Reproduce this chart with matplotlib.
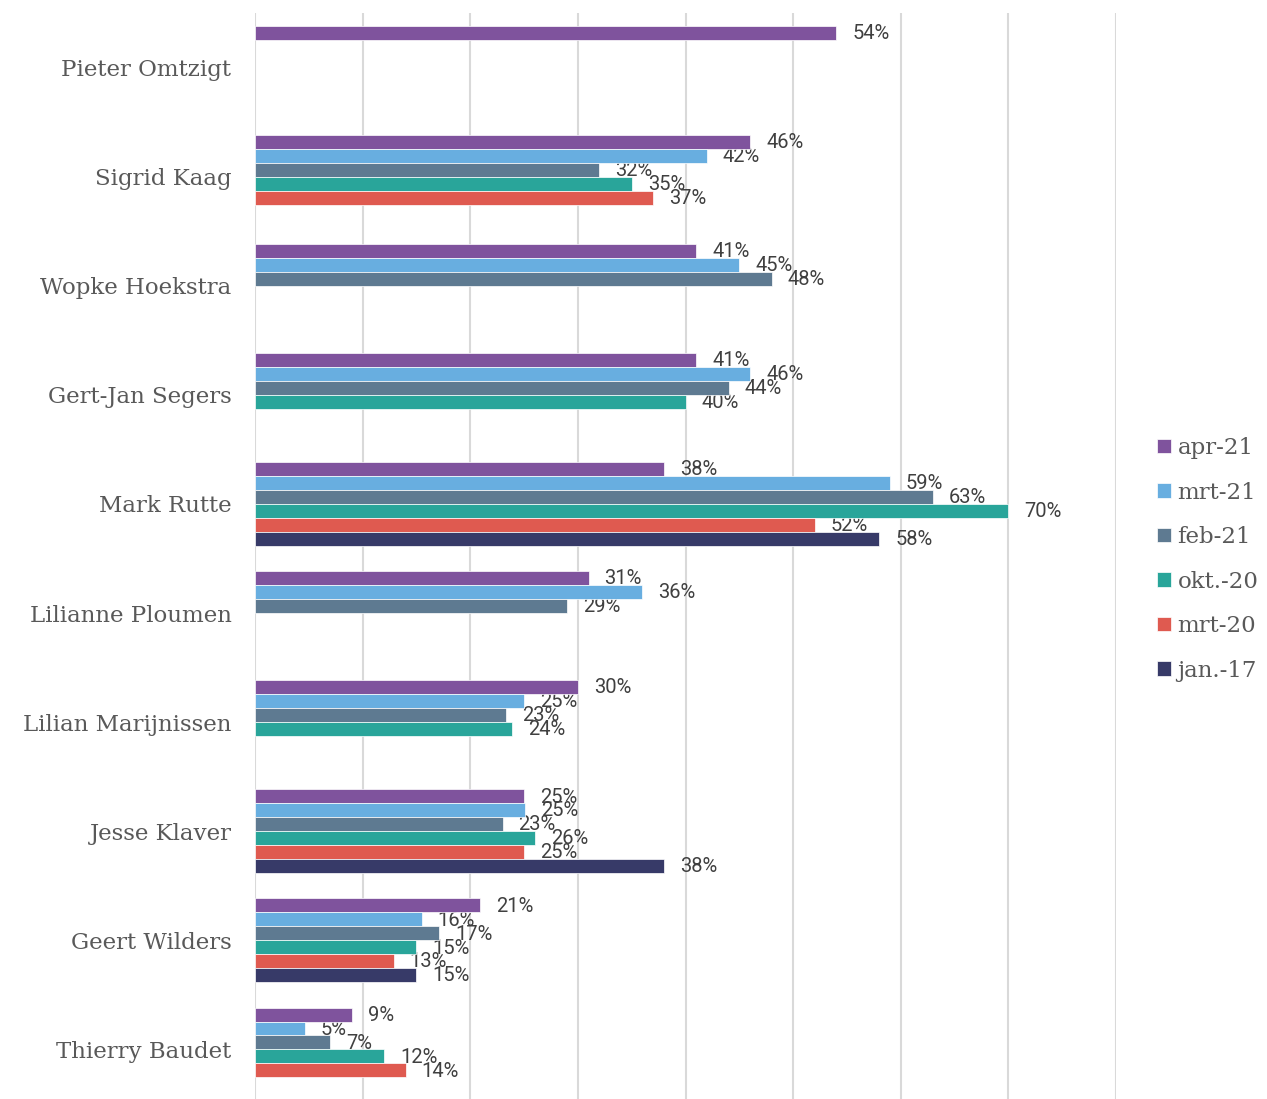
"""Horizontal grouped bar chart: politician approval by survey wave."""
import matplotlib

matplotlib.use("Agg")

import matplotlib.pyplot as plt  # noqa: E402
import numpy as np  # noqa: E402

candidates = [
    "Pieter Omtzigt",
    "Sigrid Kaag",
    "Wopke Hoekstra",
    "Gert-Jan Segers",
    "Mark Rutte",
    "Lilianne Ploumen",
    "Lilian Marijnissen",
    "Jesse Klaver",
    "Geert Wilders",
    "Thierry Baudet",
]
waves = ["apr-21", "mrt-21", "feb-21", "okt.-20", "mrt-20", "jan.-17"]

# percentages per wave, one entry per candidate (None = not asked)
apr_21 = [54, 46, 41, 41, 38, 31, 30, 25, 20.9, 9]
mrt_21 = [None, 42, 45, 46, 59, 36, 25, 25.1, 15.5, 4.6]
feb_21 = [None, 32, 48, 44, 63, 29, 23.3, 23, 17.1, 7]
okt_20 = [None, 35, None, 40, 70, None, 23.9, 26, 15, 12]
mrt_20 = [None, 37, None, None, 52, None, None, 25, 12.9, 14]
jan_17 = [None, None, None, None, 58, None, None, 38, 15, None]

series = [apr_21, mrt_21, feb_21, okt_20, mrt_20, jan_17]
colors = ["#7f539d", "#68aee0", "#5e7a91", "#29a59a", "#df5a50", "#373a68"]

W, H = 1267, 1099
fig = plt.figure(figsize=(W / 100, H / 100), dpi=100)
# axes spans 13px .. 1104px (slightly past the bottom edge)
ax = fig.add_axes([255 / W, -5 / H, (1116 - 255) / W, (1104 - 13) / H])

bar_h = 0.128
y = np.arange(len(candidates))
for j, (vals, col, name) in enumerate(zip(series, colors, waves)):
    ys = y + (j - 2.5) * bar_h
    mask = np.array([v is not None for v in vals])
    xs = np.array([v if v is not None else 0 for v in vals], dtype=float)
    ax.barh(ys[mask], xs[mask], height=bar_h, color=col,
            edgecolor="white", linewidth=0.5, zorder=3, label=name)
    for yy, v in zip(ys, vals):
        if v is None:
            continue
        ax.annotate(f"{round(v)}%", (v, yy), xytext=(11.5, -0.5),
                    textcoords="offset points", ha="left", va="center",
                    fontsize=14.5, family="Roboto", color="#404040", zorder=2)

ax.set_xlim(0, 80)
ax.set_ylim(len(candidates) - 0.5, -0.5)
ax.set_xticks(np.arange(0, 81, 10))
ax.set_xticklabels([])
ax.tick_params(axis="x", length=0)
ax.xaxis.grid(True, color="#d9d9d9", linewidth=1.5, zorder=0)
ax.set_axisbelow(True)
ax.set_yticks(y)
ax.set_yticklabels(candidates, family="DejaVu Serif", fontsize=16.5, color="#595959")
ax.tick_params(axis="y", length=0, pad=17)
for s in ax.spines.values():
    s.set_visible(False)

leg = fig.legend(loc="center left", bbox_to_anchor=(0.913, 0.491), frameon=False,
                 prop={"family": "DejaVu Serif", "size": 16.5}, labelspacing=0.98,
                 handlelength=0.6, handleheight=0.6, handletextpad=0.3,
                 borderaxespad=0, borderpad=0)
for t in leg.get_texts():
    t.set_color("#595959")

fig.savefig("out.png", dpi=100)
